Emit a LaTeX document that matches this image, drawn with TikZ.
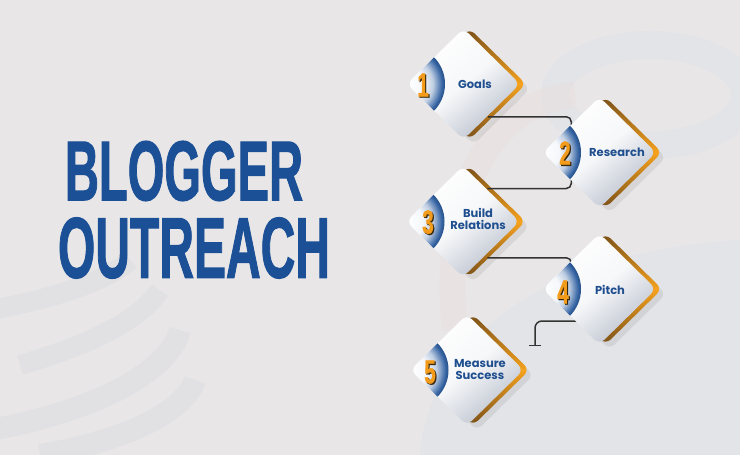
\documentclass[tikz,border=0pt]{standalone}
\usepackage{fontspec}
\usepackage{graphicx}
\usetikzlibrary{shapes.geometric,calc,arrows.meta,shadows}
\newfontfamily\titlefont{Liberation Sans Bold}[FakeBold=1.6]
\newfontfamily\numfont{Liberation Sans Bold}[FakeBold=1]
\newfontfamily\labelfont{Poppins}
\definecolor{bgc}{HTML}{E8E6E7}
\definecolor{tblue}{HTML}{1B5096}
\definecolor{lblue}{HTML}{1F4F8F}
\definecolor{blueA}{HTML}{2C5D9F}
\definecolor{grayD}{HTML}{B9C0CD}
\definecolor{orangeG}{HTML}{F5A21E}
\definecolor{brownD}{HTML}{7A5019}
\definecolor{numor}{HTML}{F39C1C}
\definecolor{numsh}{HTML}{3A2A10}
\definecolor{conn}{HTML}{333333}
\definecolor{ghost}{HTML}{DFE0E4}
\definecolor{ghostb}{HTML}{DCE2E7}
\definecolor{ghostr}{HTML}{E9DEDE}
\pgfdeclareradialshading{cresc}{\pgfpoint{0bp}{0bp}}{color(0bp)=(white); color(11bp)=(white!95!blueA); color(17bp)=(blueA!30); color(23bp)=(blueA!95); color(25bp)=(blueA!85!black); color(50bp)=(blueA)}
\newcommand{\bignum}[1]{\fontsize{33.5}{34}\selectfont\scalebox{0.62}[1]{#1}}
\begin{document}
\begin{tikzpicture}[x=1pt,y=1pt,
  gold/.style={diamond, aspect=1, minimum width=113pt, minimum height=111pt, inner sep=0pt, outer sep=0pt, rounded corners=7pt,
    top color=brownD, bottom color=brownD, middle color=orangeG,
    drop shadow={opacity=0.16, shadow xshift=4pt, shadow yshift=-5pt}},
  card/.style={diamond, aspect=1, minimum width=113pt, minimum height=111pt, inner sep=0pt, outer sep=0pt, rounded corners=7pt,
    top color=white, bottom color=grayD, middle color=white!88!grayD, shading angle=40},
  lbl/.style={text=lblue, font=\labelfont\bfseries\fontsize{11.5}{12.5}\selectfont, align=center, inner sep=0pt},
  numsty/.style={text=numor, font=\numfont, inner sep=0pt},
  numshadow/.style={text=numsh, font=\numfont, inner sep=0pt},
  link/.style={draw=conn, line width=1.5pt, rounded corners=5pt},
  ttl/.style={inner sep=0pt, text=tblue}
]
\useasboundingbox (0,0) rectangle (740,-455);
\fill[bgc] (0,0) rectangle (740,-455);
% ghost background
\begin{scope}
\clip (0,0) rectangle (740,-455);
\fill[ghostb, opacity=0.45] (420,-455) .. controls (430,-330) and (560,-250) .. (740,-240) -- (740,-455) -- cycle;
\draw[ghostb, line width=28pt, opacity=0.45] (650,-95) ellipse (95pt and 50pt);
\draw[ghostr, line width=26pt, opacity=0.45] (455,-330) .. controls (440,-180) and (500,-100) .. (575,-95);
\draw[ghost, line width=20pt, opacity=0.7] (-10,-310) .. controls (50,-300) and (110,-280) .. (130,-260);
\draw[ghost, line width=20pt, opacity=0.7] (20,-365) .. controls (90,-345) and (140,-320) .. (160,-290);
\draw[ghost, line width=22pt, opacity=0.7] (-10,-430) .. controls (100,-410) and (170,-370) .. (180,-330);
\draw[ghost, line width=22pt, opacity=0.7] (40,-455) .. controls (130,-440) and (185,-410) .. (195,-380);
\end{scope}
% title
\node[ttl] (title1) at (184,-171) {\resizebox{238pt}{59pt}{\titlefont BLOGGER}};
\node[ttl] (title2) at (194,-248) {\resizebox{272pt}{60pt}{\titlefont OUTREACH}};
% anchor coordinates of the cards
\coordinate (c1) at (463.5,-84);
\coordinate (c2) at (599.5,-152.5);
\coordinate (c3) at (463,-221.5);
\coordinate (c4) at (599.5,-289);
\coordinate (c5) at (467,-370);
% gold backs
\foreach \i in {1,...,5} {
  \node[gold] (g\i) at ($(c\i)+(6,0)$) {};
}
% outline helpers (no drawing) for connector ends
\foreach \i in {1,...,5} {
  \path (c\i) node[diamond, aspect=1, minimum width=113pt, minimum height=111pt, inner sep=0pt, outer sep=0pt] (s\i) {};
}
\coordinate (a1) at ($(s1.south east)+(-4,-5)$);
\draw[link] (a1) -- (a1 -| s2.north west) -- ($(s2.north west)+(0,-3)$);
\coordinate (a2) at ($(s3.north east)+(-4,5.25)$);
\draw[link] ($(s2.south west)+(0,3)$) -- (s2.south west |- a2) -- (a2);
\coordinate (a3) at ($(s3.south east)+(-4,-8.5)$);
\draw[link] (a3) -- (a3 -| s4.north west) -- ($(s4.north west)+(0,-3)$);
\coordinate (a4) at ($(s4.south west)+(8,-4.25)$);
\coordinate (t5) at (535,-346);
\draw[link, rounded corners=7pt, -{Bar[width=12pt, line width=1.5pt]}] (a4) -- (a4 -| t5) -- (t5);
% white cards with blue crescent
\foreach \i in {1,...,5} {
  \node[card] (d\i) at (c\i) {};
  \begin{scope}
    \clip[rounded corners=7pt] (s\i.west) -- (s\i.north) -- (s\i.east) -- (s\i.south) -- cycle;
    \shade[shading=cresc] (s\i.west) circle (38pt);
  \end{scope}
}
% numbers
\node[numshadow] at (424.2,-86.2) {\bignum{1}};
\node[numsty] (n1) at (423,-85) {\bignum{1}};
\node[numshadow] at (566.2,-154.2) {\bignum{2}};
\node[numsty] (n2) at (565,-153) {\bignum{2}};
\node[numshadow] at (429.2,-223.2) {\bignum{3}};
\node[numsty] (n3) at (428,-222) {\bignum{3}};
\node[numshadow] at (564.2,-293.2) {\bignum{4}};
\node[numsty] (n4) at (563,-292) {\bignum{4}};
\node[numshadow] at (431.2,-373.2) {\bignum{5}};
\node[numsty] (n5) at (430,-372) {\bignum{5}};
% labels
\node[lbl] (l1) at (475,-84) {Goals};
\node[lbl] (l2) at (617,-152.5) {Research};
\node[lbl] (l3) at (478,-219) {Build\\Relations};
\node[lbl] (l4) at (610,-290) {Pitch};
\node[lbl] (l5) at (480,-369.5) {Measure\\Success};
\end{tikzpicture}
\end{document}
